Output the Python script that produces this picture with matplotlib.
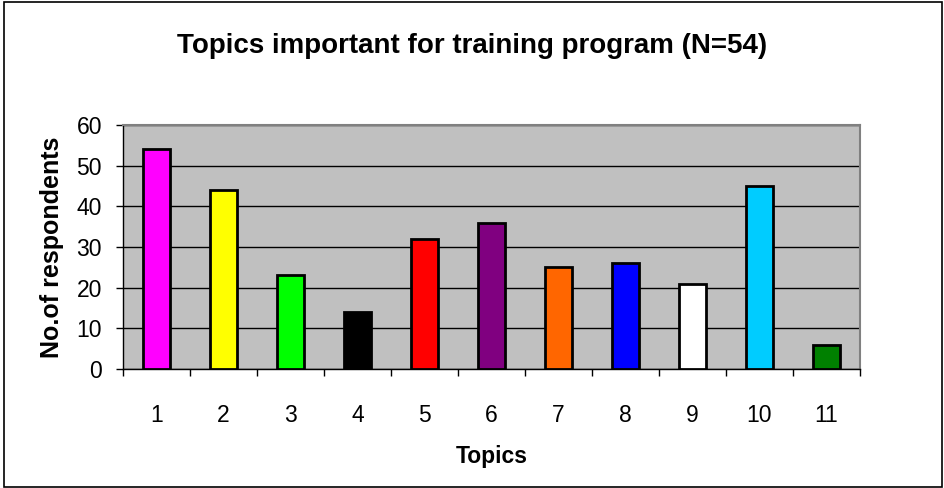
import matplotlib
matplotlib.use("Agg")
import matplotlib.pyplot as plt
from matplotlib.patches import Rectangle

topics = ["1", "2", "3", "4", "5", "6", "7", "8", "9", "10", "11"]
respondents = [54, 44, 23, 14, 32, 36, 25, 26, 21, 45, 6]
bar_colors = ["#FF00FF", "#FFFF00", "#00FF00", "#000000", "#FF0000", "#800080",
              "#FF6600", "#0000FF", "#FFFFFF", "#00CCFF", "#008000"]
y_ticks = [0, 10, 20, 30, 40, 50, 60]

plt.rcParams['font.family'] = ['Liberation Sans', 'DejaVu Sans']

fig = plt.figure(figsize=(9.45, 4.88), dpi=100)
fig.patches.append(Rectangle((0.004, 0.003), 0.993, 0.993, transform=fig.transFigure,
                             fill=False, edgecolor="black", linewidth=1.2))

ax = fig.add_axes([0.130, 0.244, 0.780, 0.500])
ax.set_facecolor("#C0C0C0")
x = list(range(len(topics)))
ax.bar(x, respondents, width=0.4, color=bar_colors, edgecolor="black", linewidth=2, zorder=3)

ax.set_xlim(-0.5, len(topics) - 0.5)
ax.set_ylim(0, 60)
ax.set_yticks(y_ticks)
ax.yaxis.grid(True, color="black", linewidth=1, zorder=1)
ax.set_axisbelow(True)

ax.set_xticks(x)
ax.set_xticklabels(topics, fontsize=16.5)
ax.tick_params(axis="x", length=0, pad=25)
ax.set_xticks([i - 0.5 for i in range(len(topics) + 1)], minor=True)
ax.tick_params(axis="x", which="minor", length=5, width=1, color="black", direction="out")
ax.tick_params(axis="y", labelsize=16.5, length=5, width=1, direction="out", pad=10)

for side in ("top", "right"):
    ax.spines[side].set_color("#808080")
    ax.spines[side].set_linewidth(1.5)
for side in ("left", "bottom"):
    ax.spines[side].set_color("black")
    ax.spines[side].set_linewidth(1)

ax.set_ylabel("No.of respondents", fontsize=18, fontweight="bold", labelpad=9)
ax.set_xlabel("Topics", fontsize=16.5, fontweight="bold", labelpad=13)
fig.text(0.5, 0.905, "Topics important for training program (N=54)", ha="center",
         va="center", fontsize=20, fontweight="bold")

fig.savefig("out.png", dpi=100)
